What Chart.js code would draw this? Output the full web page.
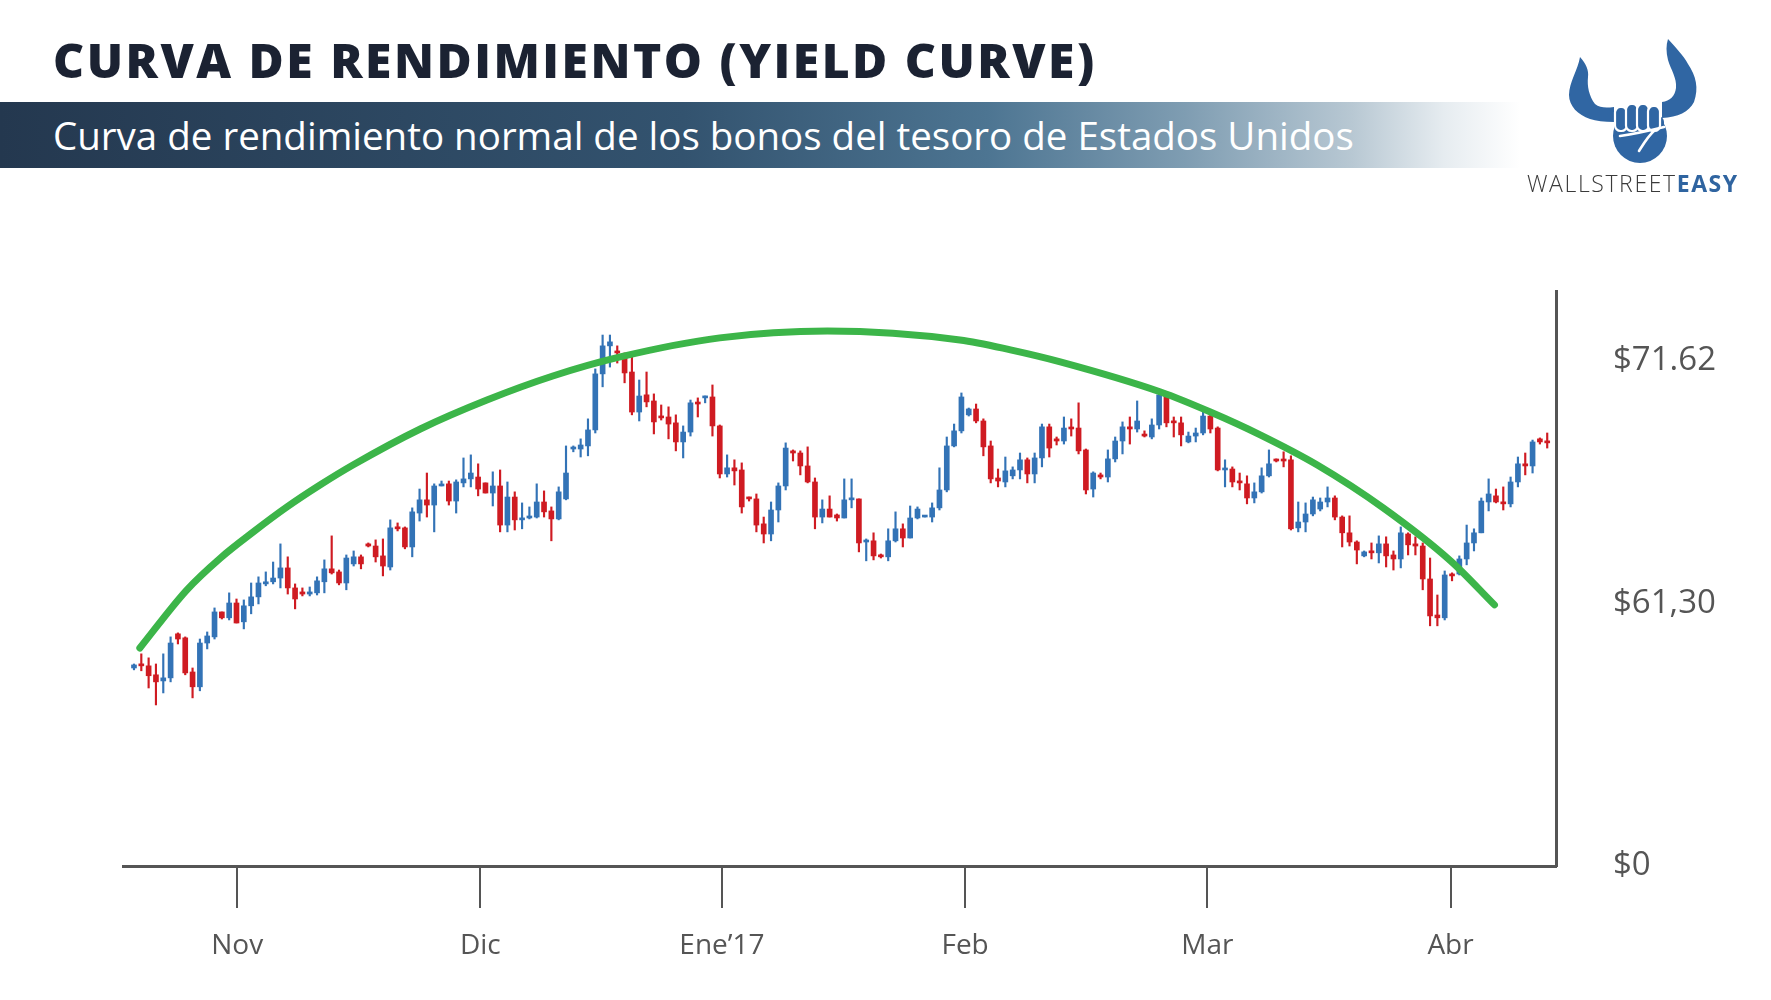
<!DOCTYPE html>
<html lang="es">
<head>
<meta charset="UTF-8">
<title>Curva de rendimiento (Yield Curve)</title>
<script src="https://cdn.jsdelivr.net/npm/chart.js@4.4.1/dist/chart.umd.min.js"></script>
<style>
  html, body { margin: 0; padding: 0; background: #fff; }
  body { width: 1771px; height: 1000px; position: relative; overflow: hidden; font-family: "Open Sans", sans-serif; }
  #chartBox { position: absolute; left: 0; top: 0; width: 1771px; height: 1000px; }
  .title { position: absolute; left: 53px; top: 36px; font-size: 48px; line-height: 1; font-weight: 800; color: #1b2232; white-space: nowrap; letter-spacing: 2.5px; }
  .band { position: absolute; left: 0; top: 102px; width: 1520px; height: 66px;
    background: linear-gradient(to right, #24384f 0%, #33536f 45%, #4d7592 65%, #7f9db2 78%, #b8c8d3 89%, #e6ecf0 95%, #ffffff 100%); }
  .subtitle { position: absolute; left: 53px; top: 116px; font-size: 38.5px; line-height: 1; font-weight: 500; color: #fff; white-space: nowrap; }
  .logo { position: absolute; left: 1560px; top: 30px; }
  .brand { position: absolute; left: 1527px; top: 172px; font-size: 23px; line-height: 1; color: #3a3a3a; white-space: nowrap; font-weight: 300; letter-spacing: 1.6px; }
  .brand b { color: #2f64a0; font-weight: 700; }
</style>
</head>
<body>

<div id="chartBox"><canvas id="chart" width="1771" height="1000"></canvas></div>

<div class="title">CURVA DE RENDIMIENTO (YIELD CURVE)</div>
<div class="band"></div>
<div class="subtitle">Curva de rendimiento normal de los bonos del tesoro de Estados Unidos</div>

<!-- logo -->
<svg class="logo" width="150" height="140" viewBox="0 0 150 140">
  <g fill="#3066a3">
    <path d="M20,27 C26,34 29,40 28,47 C27,56 29,66 35,74 C40,78 46,78 54,77 L54,92 C44,92 36,91 30,89 C18,85 9,76 9,65 C9,52 18,40 20,27 Z"/>
    <path d="M108,9 C116,18 124,26 128,34 C136,46 139,58 134,72 C129,82 118,87 102,88 L102,72 C110,71 115,66 116,58 C117,48 111,40 108,30 C106,22 106,15 108,9 Z"/>
    <circle cx="80" cy="106" r="27"/>
    <rect x="54" y="86" width="50" height="24" rx="6"/>
  </g>
  <g fill="#3066a3" stroke="#fff" stroke-width="2.2">
    <rect x="55" y="77" width="12" height="24" rx="5.5"/>
    <rect x="66" y="74" width="12" height="27" rx="5.5"/>
    <rect x="77" y="74" width="12" height="27" rx="5.5"/>
    <rect x="88" y="76" width="12" height="25" rx="5.5"/>
  </g>
  <path d="M60,106 C74,104 88,101 104,97 M79,121 C84,113 88,106 95,100" fill="none" stroke="#fff" stroke-width="2.6" stroke-linecap="round"/>
</svg>
<div class="brand">WALLSTREET<b>EASY</b></div>

<script>
// candles (open, high, low, close), one per bar from left to right
var candleOpen = [
  58.41, 58.54, 58.50, 58.12, 57.86, 57.99, 59.86, 59.69, 58.24, 57.61,
  59.47, 59.73, 60.79, 60.54, 61.17, 60.37, 61.05, 61.43, 61.98, 62.07,
  62.23, 62.66, 61.81, 61.64, 61.55, 61.60, 62.07, 62.62, 62.49, 62.02,
  62.83, 63.13, 63.68, 63.59, 63.17, 62.70, 64.40, 64.36, 63.55, 64.99,
  65.55, 65.33, 66.14, 66.23, 65.50, 66.27, 66.44, 66.52, 66.27, 65.84,
  66.14, 64.48, 65.67, 64.70, 64.78, 64.82, 65.46, 65.08, 64.74, 65.59,
  67.71, 67.71, 67.84, 68.52, 70.90, 72.09, 71.83, 71.62, 70.98, 69.28,
  70.01, 69.75, 69.11, 69.07, 68.82, 68.01, 68.43, 69.67, 69.88, 69.92,
  68.69, 66.65, 66.91, 66.82, 65.63, 65.59, 64.53, 64.10, 65.12, 66.14,
  67.63, 67.54, 66.99, 66.31, 64.82, 65.16, 64.91, 64.78, 65.55, 65.59,
  63.76, 63.81, 63.21, 63.13, 63.81, 64.32, 63.93, 64.78, 64.82, 64.82,
  65.21, 65.97, 67.84, 68.48, 69.16, 69.41, 68.90, 67.84, 66.48, 66.31,
  66.57, 66.82, 67.25, 66.65, 67.33, 68.65, 68.14, 68.05, 68.60, 68.60,
  67.67, 66.01, 66.61, 66.52, 67.29, 68.05, 68.65, 68.56, 68.31, 68.22,
  68.73, 70.01, 68.86, 68.82, 68.01, 68.26, 68.39, 69.11, 68.60, 66.82,
  66.86, 66.35, 66.23, 65.63, 65.89, 66.57, 67.25, 67.25, 67.25, 64.36,
  64.61, 64.95, 65.16, 65.46, 65.63, 64.82, 64.15, 63.76, 63.17, 63.34,
  63.30, 63.68, 63.21, 63.04, 64.10, 63.68, 63.59, 62.19, 60.66, 60.54,
  62.40, 62.40, 63.04, 63.72, 64.15, 65.46, 65.72, 65.46, 65.38, 66.31,
  67.08, 66.99, 68.14, 68.01
];
var candleHigh = [
  58.58, 59.01, 58.84, 58.58, 59.01, 59.73, 59.90, 59.73, 58.41, 59.64,
  59.94, 60.96, 60.79, 61.60, 61.34, 61.30, 62.02, 62.28, 62.49, 62.91,
  63.68, 63.13, 61.98, 61.81, 61.85, 62.28, 63.00, 64.02, 62.57, 63.21,
  63.38, 63.21, 63.72, 63.85, 63.89, 64.70, 64.57, 64.40, 65.21, 66.01,
  66.69, 66.23, 66.35, 66.35, 66.40, 67.33, 67.46, 67.08, 66.27, 66.74,
  66.82, 66.31, 65.89, 65.42, 65.25, 66.23, 65.93, 65.25, 66.10, 67.84,
  67.84, 68.14, 68.99, 71.11, 72.55, 72.55, 72.09, 71.79, 71.62, 70.64,
  70.98, 70.05, 69.58, 69.50, 69.16, 68.69, 69.79, 69.88, 69.96, 70.43,
  68.73, 67.46, 67.25, 67.12, 65.67, 65.80, 64.82, 65.46, 66.27, 67.97,
  67.67, 67.63, 67.80, 66.48, 65.55, 65.72, 64.95, 66.44, 66.44, 65.59,
  63.89, 64.15, 63.25, 64.32, 65.04, 64.53, 65.29, 65.25, 64.87, 65.42,
  66.91, 68.22, 68.77, 70.09, 69.45, 69.62, 68.99, 68.05, 66.86, 67.37,
  66.95, 67.54, 67.33, 67.54, 68.77, 68.77, 68.22, 69.07, 68.99, 69.67,
  67.71, 66.74, 66.69, 67.67, 68.22, 68.86, 69.07, 69.75, 68.48, 68.99,
  70.09, 70.09, 69.07, 69.07, 68.43, 68.60, 69.28, 69.28, 68.65, 67.25,
  66.95, 66.69, 66.57, 66.27, 66.91, 67.67, 67.29, 67.59, 67.42, 65.46,
  65.42, 65.67, 65.63, 66.10, 65.72, 64.87, 64.87, 63.81, 63.38, 63.72,
  64.02, 63.98, 63.38, 64.40, 64.15, 63.98, 63.72, 63.08, 61.51, 62.53,
  62.45, 63.17, 64.48, 64.32, 65.63, 66.44, 66.01, 66.10, 66.52, 67.37,
  67.54, 68.09, 68.18, 68.39
];
var candleLow = [
  58.33, 58.29, 57.56, 56.84, 57.35, 57.82, 59.43, 58.12, 57.14, 57.44,
  59.22, 59.64, 60.49, 60.45, 60.32, 60.07, 60.71, 61.13, 61.90, 61.98,
  61.81, 61.55, 60.92, 61.47, 61.47, 61.51, 61.60, 62.40, 61.94, 61.73,
  62.74, 62.62, 63.55, 62.91, 62.32, 62.57, 64.23, 63.47, 63.13, 64.65,
  64.82, 64.19, 66.14, 65.33, 64.99, 66.10, 66.10, 65.72, 65.84, 65.29,
  64.19, 64.19, 64.27, 64.32, 64.74, 64.78, 64.82, 63.81, 64.70, 65.55,
  67.59, 67.37, 67.42, 68.39, 70.35, 71.19, 71.36, 70.52, 69.16, 68.90,
  69.50, 68.35, 68.94, 68.14, 67.63, 67.33, 68.26, 69.07, 69.67, 68.26,
  66.48, 66.52, 66.18, 64.99, 65.50, 64.19, 63.72, 63.81, 64.61, 65.97,
  67.20, 66.61, 66.27, 64.32, 64.57, 64.82, 64.65, 64.78, 65.21, 63.34,
  62.96, 63.00, 63.08, 62.96, 63.76, 63.55, 63.93, 64.74, 64.82, 64.61,
  65.12, 65.89, 67.80, 68.39, 69.11, 68.82, 67.42, 66.27, 66.10, 66.10,
  66.44, 66.44, 66.27, 66.27, 66.95, 67.37, 67.88, 67.92, 68.26, 67.50,
  65.80, 65.67, 66.44, 66.31, 67.16, 67.50, 67.92, 68.43, 68.22, 68.14,
  68.56, 68.65, 68.22, 67.84, 67.97, 68.01, 68.31, 68.39, 66.78, 66.10,
  66.10, 65.97, 65.38, 65.42, 65.84, 66.52, 67.16, 66.95, 64.27, 64.19,
  64.19, 64.87, 65.08, 65.25, 64.70, 63.55, 63.59, 62.83, 63.13, 63.04,
  62.87, 62.70, 62.57, 62.66, 63.21, 63.21, 61.73, 60.20, 60.20, 60.45,
  62.11, 62.36, 62.79, 63.38, 64.15, 65.08, 65.42, 65.12, 65.25, 66.10,
  66.61, 66.69, 67.92, 67.75
];
var candleClose = [
  58.54, 58.50, 58.08, 57.82, 57.99, 59.47, 59.64, 58.20, 57.61, 59.47,
  59.77, 60.79, 60.54, 61.17, 60.32, 61.05, 61.43, 62.02, 62.07, 62.23,
  62.66, 61.81, 61.34, 61.55, 61.64, 62.11, 62.62, 62.45, 62.02, 63.08,
  63.13, 62.83, 63.59, 63.13, 62.74, 64.36, 64.32, 63.55, 65.04, 65.55,
  65.33, 66.14, 66.18, 65.50, 66.31, 66.44, 66.69, 66.01, 65.84, 66.14,
  64.48, 65.67, 64.70, 64.78, 64.82, 65.46, 65.04, 64.74, 65.89, 66.69,
  67.75, 67.88, 68.52, 70.90, 72.09, 72.26, 71.79, 70.94, 69.28, 69.96,
  69.71, 68.86, 69.03, 68.77, 68.01, 68.43, 69.67, 69.62, 69.92, 68.69,
  66.65, 66.91, 66.78, 65.25, 65.59, 64.48, 64.10, 65.12, 66.14, 67.75,
  67.54, 66.99, 66.31, 64.82, 65.16, 64.82, 64.78, 65.55, 65.59, 63.72,
  63.81, 63.17, 63.13, 63.81, 64.32, 63.93, 64.78, 65.16, 64.87, 65.21,
  65.97, 67.84, 68.48, 69.92, 69.41, 68.90, 67.80, 66.44, 66.35, 66.78,
  66.82, 67.25, 66.65, 67.33, 68.65, 67.75, 68.05, 68.60, 68.56, 67.63,
  65.97, 66.69, 66.52, 67.29, 68.05, 68.65, 68.56, 68.90, 68.26, 68.73,
  70.01, 68.82, 68.82, 68.31, 68.26, 68.39, 69.11, 68.56, 66.82, 66.86,
  66.31, 66.27, 65.63, 65.89, 66.57, 67.08, 67.20, 67.20, 64.32, 64.61,
  64.95, 65.55, 65.46, 65.63, 64.82, 64.15, 63.76, 63.42, 63.34, 63.30,
  63.68, 63.17, 63.04, 64.15, 63.64, 63.59, 62.19, 60.62, 60.54, 62.36,
  62.32, 63.04, 63.72, 64.15, 65.50, 65.80, 65.46, 65.38, 66.31, 67.08,
  66.99, 68.01, 68.01, 67.97
];

// green arc, points (bar index, price)
var curveIndex = [0.8, 7.2, 11.8, 16.3, 20.9, 25.4, 29.9, 39.1, 48.2, 57.2, 66.4, 80.0, 94.7, 112.8, 119.7, 126.5, 140.2, 147.0, 153.8, 161.6, 170.6, 179.8, 185.8];
var curvePrice = [59.26, 61.72, 63.08, 64.19, 65.25, 66.18, 67.03, 68.56, 69.79, 70.81, 71.62, 72.43, 72.72, 72.34, 71.92, 71.41, 70.13, 69.28, 68.31, 67.03, 65.21, 62.96, 61.09];

var monthLabels = ['Nov', 'Dic', 'Ene\u201917', 'Feb', 'Mar', 'Abr'];
var monthTickIndex = [14.1, 47.3, 80.3, 113.5, 146.6, 179.8];

var priceTicks = [50.2, 61.30, 71.62];
var priceTickLabels = ['$0', '$61,30', '$71.62'];

var BLUE = '#3373b6';
var RED = '#cf1b22';
var AXIS = '#555555';

function isUp(i) {
    return candleClose[i] >= candleOpen[i];
}
function candleColor(ctx) {
    return isUp(ctx.dataIndex) ? BLUE : RED;
}

var bodies = candleOpen.map(function (o, i) { return { x: i, y: [o, candleClose[i]] }; });
var wicks = candleLow.map(function (l, i) { return { x: i, y: [l, candleHigh[i]] }; });
var curve = curveIndex.map(function (x, i) { return { x: x, y: curvePrice[i] }; });

new Chart(document.getElementById('chart'), {
    type: 'bar',
    data: {
        datasets: [
            {
                type: 'line',
                data: curve,
                borderColor: '#3cb549',
                borderWidth: 7,
                borderCapStyle: 'round',
                pointRadius: 0,
                cubicInterpolationMode: 'monotone',
                fill: false,
                order: 0
            },
            {
                data: bodies,
                backgroundColor: candleColor,
                barThickness: 5,
                grouped: false,
                minBarLength: 2,
                order: 1
            },
            {
                data: wicks,
                backgroundColor: candleColor,
                barThickness: 1.5,
                grouped: false,
                order: 2
            }
        ]
    },
    options: {
        responsive: false,
        animation: false,
        events: [],
        layout: { padding: { left: 123, top: 291, right: 0, bottom: 0 } },
        plugins: { legend: { display: false }, tooltip: { enabled: false } },
        scales: {
            x: {
                type: 'linear',
                min: -1.5,
                max: 194.2,
                offset: false,
                afterBuildTicks: function (scale) {
                    scale.ticks = monthTickIndex.map(function (v) { return { value: v }; });
                },
                afterFit: function (scale) { scale.height = 134; },
                grid: { offset: false, drawOnChartArea: false, drawTicks: true, tickLength: 42, color: AXIS, lineWidth: 2 },
                border: { display: true, color: AXIS, width: 3 },
                ticks: {
                    autoSkip: false,
                    maxRotation: 0,
                    padding: 21,
                    color: AXIS,
                    font: { family: 'Open Sans', size: 28 },
                    callback: function (v, i) { return monthLabels[i]; }
                }
            },
            y: {
                position: 'right',
                min: 50,
                max: 74.42,
                afterBuildTicks: function (scale) {
                    scale.ticks = priceTicks.map(function (v) { return { value: v }; });
                },
                afterFit: function (scale) { scale.width = 215; },
                grid: { drawOnChartArea: false, drawTicks: false },
                border: { display: true, color: AXIS, width: 3 },
                ticks: {
                    padding: 57,
                    labelOffset: 4,
                    color: AXIS,
                    font: { family: 'Open Sans', size: 33 },
                    callback: function (v, i) { return priceTickLabels[i]; }
                }
            }
        }
    }
});
</script>

</body>
</html>
